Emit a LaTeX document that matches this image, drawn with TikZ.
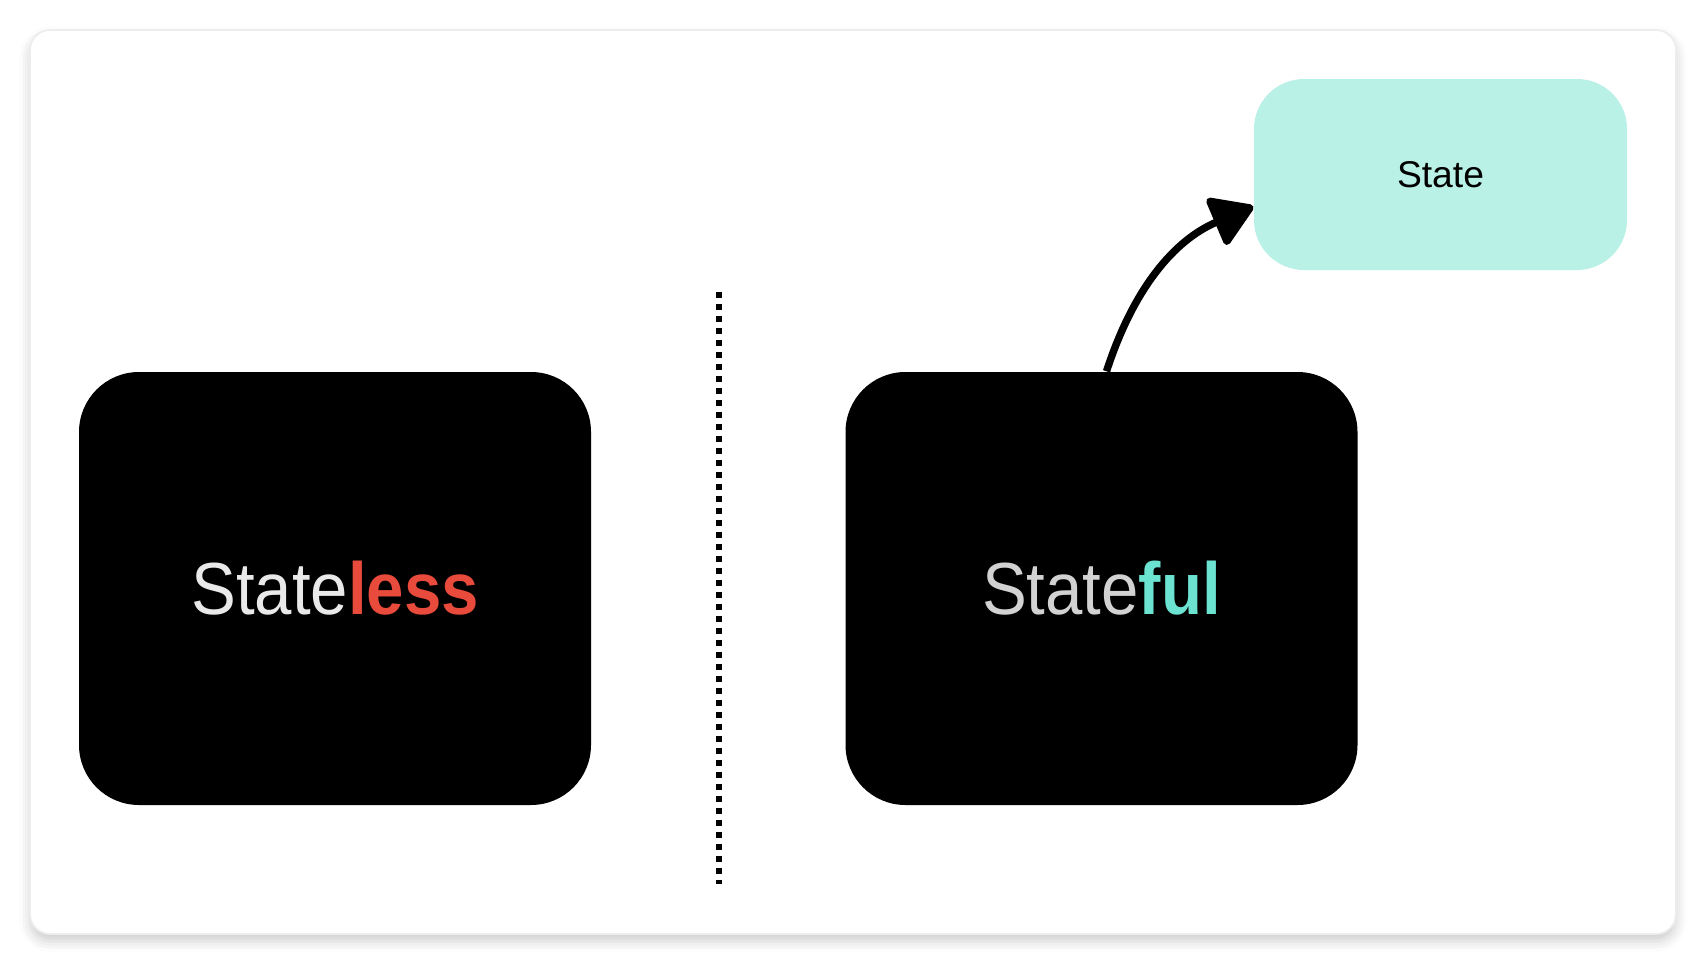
\documentclass[tikz,border=0pt]{standalone}
\usepackage{fontspec}
\setmainfont{Liberation Sans}
\usepackage{tikz}
\usetikzlibrary{positioning,arrows.meta,shadows.blur}

\definecolor{lessred}{HTML}{E84A3B}
\definecolor{fulteal}{HTML}{6CE3D1}
\definecolor{statemint}{HTML}{B9F1E6}
\definecolor{lightgrey}{HTML}{E9E9E9}
\definecolor{midgrey}{HTML}{D2D2D2}

\begin{document}
\begin{tikzpicture}[
	card/.style={fill=white, draw=black!7, line width=0.5pt, rounded corners=0.2cm,
		blur shadow={shadow xshift=0pt, shadow yshift=-2pt, shadow blur radius=3pt, shadow opacity=20}},
	block/.style={fill=black, rounded corners=0.6cm, minimum width=5.12cm, minimum height=4.33cm,
		inner sep=0pt, font=\fontsize{21}{25}\selectfont},
	statebox/.style={fill=statemint, rounded corners=0.5cm, minimum width=3.73cm, minimum height=1.91cm,
		inner sep=0pt, font=\fontsize{10.6}{13}\selectfont},
	divider/.style={line width=1.5pt, dash pattern=on 0.06cm off 0.06cm},
	link/.style={line width=2.1pt, -{Triangle[length=0.45cm,width=0.55cm,round]}}
]
	\useasboundingbox (0,0) rectangle (17.06,-9.64);
	\node[card, minimum width=16.46cm, minimum height=9.04cm] (bg) at (8.53,-4.82) {};

	% left and right blocks
	\node[block] (stateless) at (3.35,-5.885) {\scalebox{0.91}[1]{\color{lightgrey}State\textcolor{lessred}{\bfseries less}}};
	\node[block] (stateful) at (11.015,-5.885) {\scalebox{0.91}[1]{\color{midgrey}State\textcolor{fulteal}{\bfseries ful}}};
	\node[statebox] (state) at (14.405,-1.745) {State};

	\coordinate (divtop) at (7.19,-2.92);
	\coordinate (divbot) at (7.19,-8.84);
	\draw[divider] (divtop)--(divbot);

	\draw[link] ([xshift=0.05cm]stateful.north) to[out=72,in=203] ([yshift=-0.32cm]state.west);
\end{tikzpicture}
\end{document}
